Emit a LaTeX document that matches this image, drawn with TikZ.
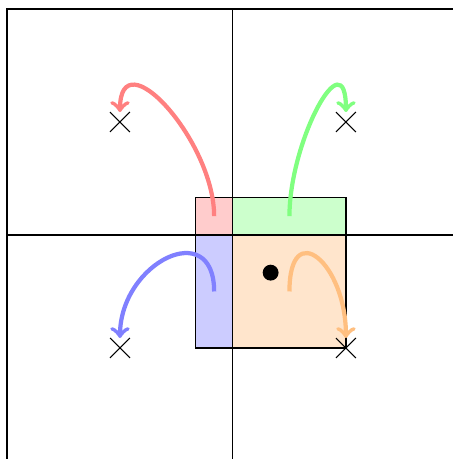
\documentclass[tikz,border=0pt]{standalone}
\usetikzlibrary{shapes.misc}
\begin{document}
\begin{tikzpicture}[
  crossmark/.style={cross out, draw, minimum size=0.25cm, inner sep=0pt, line width=0.4pt},
  pt/.style={circle, fill=black, inner sep=0pt, minimum size=6pt},
  move/.style={->, line width=1.6pt},
  outline/.style={draw=black, semithick},
]
\useasboundingbox (-3.093,-2.974) rectangle (2.920,3.120);
% pieces
\fill[red!20] (-0.5,0) rectangle (0,0.5);
\fill[green!20] (0,0) rectangle (1.5,0.5);
\fill[blue!20] (-0.5,-1.5) rectangle (0,0);
\fill[orange!20] (0,-1.5) rectangle (1.5,0);
% grid lines
\draw[line width=0.4pt] (-3,-2.974) -- (-3,3) -- (2.92,3);
\draw[line width=0.4pt] (0,-2.974) -- (0,3);
\draw[line width=0.4pt] (-3,0) -- (2.92,0);
% square outline
\draw[outline] (-0.5,-1.5) rectangle (1.5,0.5);
% point
\node[pt] (p) at (0.5,-0.5) {};
% crosses
\node[crossmark] (crl) at (-1.5,1.5) {};
\node[crossmark] (crr) at (1.5,1.5) {};
\node[crossmark] (cbl) at (-1.5,-1.5) {};
\node[crossmark] (cbr) at (1.5,-1.5) {};
% starting points
\coordinate (sr) at (-0.25,0.25);
\coordinate (sg) at (0.75,0.25);
\coordinate (sb) at (-0.25,-0.75);
\coordinate (so) at (0.75,-0.75);
% arrows
\draw[move, red!50] (sr) .. controls +(0,1) and +(0,1) .. (crl.north);
\draw[move, green!50] (sg) .. controls +(0,1) and +(0,1) .. (crr.north);
\draw[move, blue!50] (sb) .. controls +(0,1) and +(0,1) .. (cbl.north);
\draw[move, orange!50] (so) .. controls +(0,1) and +(0,1) .. (cbr.north);
\end{tikzpicture}
\end{document}
